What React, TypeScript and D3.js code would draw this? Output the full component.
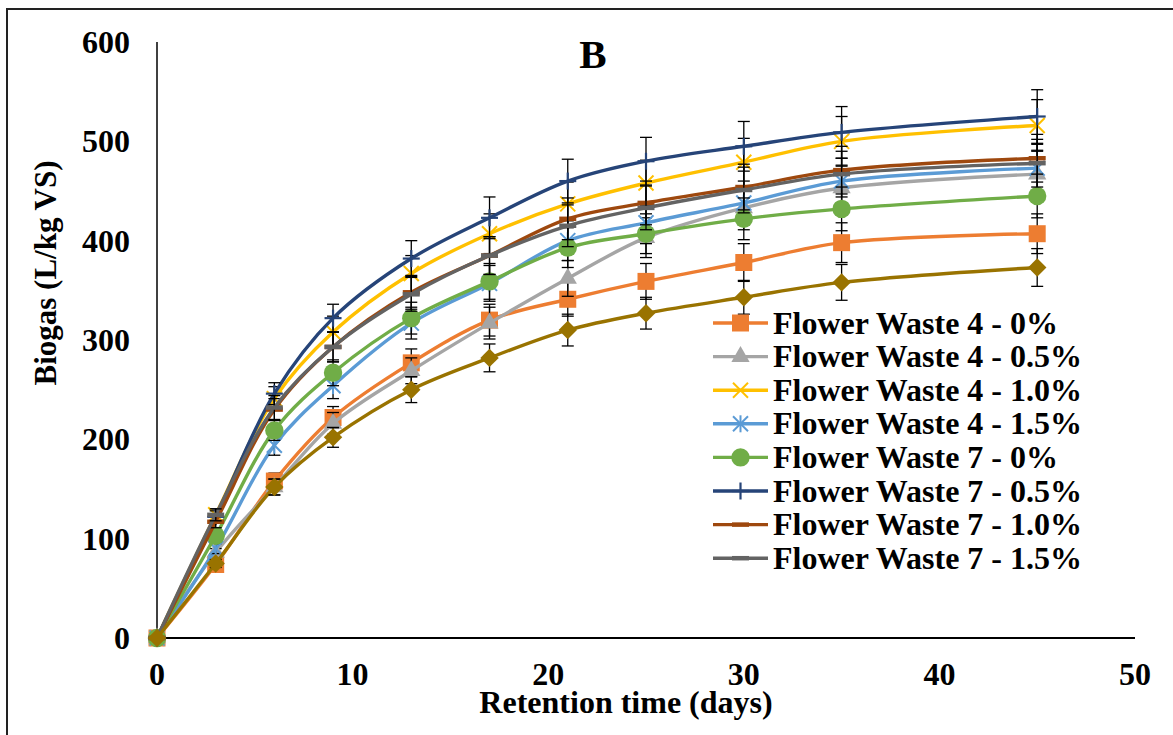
import React from "react";
import * as d3 from "d3";

const width = 1173;
const height = 735;

const days = [0, 3, 6, 9, 13, 17, 21, 25, 30, 35, 45];

const seriesNames = [
  "Flower Waste 4 - 0%",
  "Flower Waste 4 - 0.5%",
  "Flower Waste 4 - 1.0%",
  "Flower Waste 4 - 1.5%",
  "Flower Waste 7 - 0%",
  "Flower Waste 7 - 0.5%",
  "Flower Waste 7 - 1.0%",
  "Flower Waste 7 - 1.5%",
  "",
];

const fw4_0 = [0, 74, 158, 222, 277, 320, 341, 359, 378, 398, 407];
const fw4_05 = [0, 86, 152, 216, 269, 317, 362, 403, 433, 453, 467];
const fw4_10 = [0, 124, 241, 308, 367, 407, 437, 458, 479, 500, 516];
const fw4_15 = [0, 90, 194, 254, 317, 357, 400, 418, 438, 460, 473];
const fw7_0 = [0, 103, 209, 267, 322, 359, 393, 407, 422, 432, 445];
const fw7_05 = [0, 122, 246, 322, 382, 423, 460, 480, 495, 509, 525];
const fw7_10 = [0, 117, 230, 293, 348, 385, 422, 438, 454, 471, 483];
const fw7_15 = [0, 124, 232, 293, 346, 385, 415, 433, 451, 467, 478];
const extra = [0, 75, 152, 202, 250, 282, 310, 327, 343, 358, 373];

const err4_0 = [0, 4, 8, 11, 14, 16, 17, 18, 19, 20, 20];
const err4_05 = [0, 4, 8, 11, 13, 16, 18, 20, 22, 23, 24];
const err4_10 = [0, 6, 12, 16, 18, 20, 22, 23, 24, 25, 26];
const err4_15 = [0, 5, 10, 13, 16, 18, 20, 21, 22, 23, 24];
const err7_0 = [0, 5, 10, 13, 16, 18, 20, 20, 21, 22, 22];
const err7_05 = [0, 6, 11, 14, 18, 21, 22, 24, 25, 26, 27];
const err7_10 = [0, 6, 11, 15, 17, 19, 21, 22, 23, 24, 24];
const err7_15 = [0, 6, 12, 15, 17, 19, 21, 22, 23, 23, 24];
const errExtra = [0, 4, 8, 10, 13, 14, 16, 16, 17, 18, 19];

const values = [fw4_0, fw4_05, fw4_10, fw4_15, fw7_0, fw7_05, fw7_10, fw7_15, extra];
const errors = [err4_0, err4_05, err4_10, err4_15, err7_0, err7_05, err7_10, err7_15, errExtra];
const colors = ["#ED7D31", "#A5A5A5", "#FFC000", "#5B9BD5", "#70AD47", "#264478", "#9E480E", "#636363", "#997300"];
const markers = ["square", "triangle", "x", "star", "circle", "plus", "dash", "dash", "diamond"];

const xTicks = [0, 10, 20, 30, 40, 50];
const yTicks = [0, 100, 200, 300, 400, 500, 600];

const font = "'Liberation Serif', 'Times New Roman', serif";

const Marker = ({ kind, cx, cy, color }: { kind: string; cx: number; cy: number; color: string }) => {
  const t = `translate(${cx},${cy})`;
  if (kind === "square") return <path transform={t} d={d3.symbol(d3.symbolSquare, 289)()!} fill={color} />;
  if (kind === "triangle") return <path transform={t} d={d3.symbol(d3.symbolTriangle, 145)()!} fill={color} />;
  if (kind === "circle") return <circle cx={cx} cy={cy} r={9.2} fill={color} />;
  if (kind === "diamond")
    return <path transform={`${t} rotate(45)`} d={d3.symbol(d3.symbolSquare, 170)()!} fill={color} />;
  const s = 7.5;
  if (kind === "x")
    return (
      <g transform={t} stroke={color} strokeWidth={2}>
        <line x1={-s} y1={-s} x2={s} y2={s} />
        <line x1={-s} y1={s} x2={s} y2={-s} />
      </g>
    );
  if (kind === "star")
    return (
      <g transform={t} stroke={color} strokeWidth={2}>
        <line x1={-s} y1={-s} x2={s} y2={s} />
        <line x1={-s} y1={s} x2={s} y2={-s} />
        <line x1={0} y1={-s - 1} x2={0} y2={s + 1} />
      </g>
    );
  if (kind === "plus")
    return (
      <g transform={t} stroke={color} strokeWidth={2.2}>
        <line x1={0} y1={-8.5} x2={0} y2={8.5} />
        <line x1={-8.5} y1={0} x2={8.5} y2={0} />
      </g>
    );
  return <line transform={t} x1={-8.5} x2={8.5} y1={0} y2={0} stroke={color} strokeWidth={4.5} />;
};

export default function App() {
  const x = d3.scaleLinear().domain([0, 50]).range([157, 1135]);
  const y = d3.scaleLinear().domain([0, 600]).range([638, 42]);

  const line = d3
    .line<number>()
    .x((_, i) => x(days[i]))
    .y((d) => y(d))
    .curve(d3.curveCatmullRom.alpha(0.5));

  const legendX = 713;
  const legendY = 323;
  const legendStep = 33.6;

  return (
    <svg width={width} height={height} style={{ position: "absolute", left: 0, top: 0, background: "#fff" }}>
      <rect x={7} y={9} width={1300} height={900} fill="#fff" stroke="#222" strokeWidth={2} />

      {/* axes */}
      <line x1={x(0)} x2={x(0)} y1={y(600)} y2={y(0)} stroke="#000" strokeWidth={1.5} />
      <line x1={x(0)} x2={x(50)} y1={y(0)} y2={y(0)} stroke="#000" strokeWidth={2} />

      {yTicks.map((t) => (
        <text
          key={"y" + t}
          x={130}
          y={y(t) + 11}
          textAnchor="end"
          style={{ fontFamily: font, fontWeight: 700, fontSize: "32px" }}
        >
          {t}
        </text>
      ))}
      {xTicks.map((t) => (
        <text
          key={"x" + t}
          x={x(t)}
          y={685}
          textAnchor="middle"
          style={{ fontFamily: font, fontWeight: 700, fontSize: "32px" }}
        >
          {t}
        </text>
      ))}

      <text x={626} y={713} textAnchor="middle" style={{ fontFamily: font, fontWeight: 700, fontSize: "32px" }}>
        Retention time (days)
      </text>
      <text
        transform="translate(56,273) rotate(-90)"
        textAnchor="middle"
        style={{ fontFamily: font, fontWeight: 700, fontSize: "31px" }}
      >
        Biogas (L/kg VS)
      </text>
      <text x={593} y={68} textAnchor="middle" style={{ fontFamily: font, fontWeight: 700, fontSize: "41px" }}>
        B
      </text>

      {values.map((vals, si) => (
        <g key={"s" + si}>
          <path d={line(vals)!} fill="none" stroke={colors[si]} strokeWidth={3.4} />
          <g stroke="#000" strokeWidth={1.3}>
            {vals.map((v, i) =>
              errors[si][i] > 0 ? (
                <g key={i}>
                  <line x1={x(days[i])} x2={x(days[i])} y1={y(v - errors[si][i])} y2={y(v + errors[si][i])} />
                  <line x1={x(days[i]) - 6} x2={x(days[i]) + 6} y1={y(v - errors[si][i])} y2={y(v - errors[si][i])} />
                  <line x1={x(days[i]) - 6} x2={x(days[i]) + 6} y1={y(v + errors[si][i])} y2={y(v + errors[si][i])} />
                </g>
              ) : null
            )}
          </g>
          {vals.map((v, i) => (
            <Marker key={i} kind={markers[si]} cx={x(days[i])} cy={y(v)} color={colors[si]} />
          ))}
        </g>
      ))}

      {/* legend */}
      {seriesNames.slice(0, 8).map((name, i) => {
        const cy = legendY + i * legendStep;
        return (
          <g key={"l" + i}>
            <line x1={legendX} x2={legendX + 55} y1={cy} y2={cy} stroke={colors[i]} strokeWidth={3.4} />
            <Marker kind={markers[i]} cx={legendX + 27.5} cy={cy} color={colors[i]} />
            <text x={773} y={cy + 10.5} style={{ fontFamily: font, fontWeight: 700, fontSize: "32px" }}>
              {name}
            </text>
          </g>
        );
      })}
    </svg>
  );
}
